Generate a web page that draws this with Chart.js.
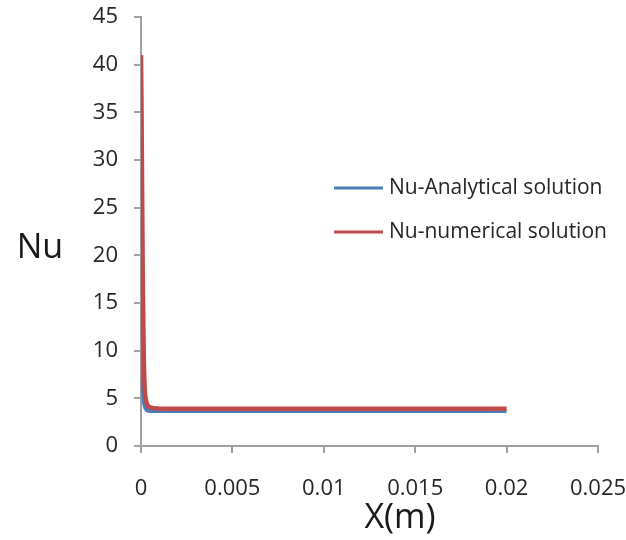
<!DOCTYPE html>
<html>
<head>
<meta charset="utf-8">
<script src="https://cdn.jsdelivr.net/npm/chart.js@4/dist/chart.umd.min.js"></script>
<style>
  html, body { margin: 0; padding: 0; background: #fff; }
  #wrap { width: 626px; height: 540px; }
</style>
</head>
<body>
<div id="wrap"><canvas id="myChart" width="626" height="540"></canvas></div>
<script>
// values
let xValues = [0, 0.00005, 0.0001, 0.00015, 0.0002, 0.0003, 0.0005, 0.001, 0.002, 0.005, 0.01, 0.015, 0.02];
let nuAnalytical = [40, 14, 6.5, 4.8, 4.2, 3.8, 3.68, 3.66, 3.66, 3.66, 3.66, 3.66, 3.66];
let nuNumerical = [41, 30, 17, 9.5, 6.2, 4.6, 4.05, 3.92, 3.9, 3.9, 3.9, 3.9, 3.9];
let seriesNames = ['Nu-Analytical solution', 'Nu-numerical solution'];
let lineColors = ['#4A7EBB', '#BE4B48'];
let xTicks = [0, 0.005, 0.01, 0.015, 0.02, 0.025];
let yTicks = [0, 5, 10, 15, 20, 25, 30, 35, 40, 45];

const toPoints = ys => xValues.map((x, i) => ({x: x, y: ys[i]}));
const FONT = '"Open Sans", "Liberation Sans", sans-serif';
const axisGray = '#a0a0a0';
const textColor = '#262626';

const labelsPlugin = {
    id: 'labels',
    afterDraw(chart) {
        let ctx = chart.ctx;
        ctx.save();
        ctx.fillStyle = '#1a1a1a';
        ctx.textBaseline = 'middle';
        // axis titles
        ctx.font = '34px ' + FONT;
        ctx.textAlign = 'center';
        ctx.fillText('Nu', 40, 248);
        ctx.fillText('X(m)', 400, 518);
        // legend
        ctx.font = '21px ' + FONT;
        ctx.textAlign = 'left';
        chart.data.datasets.forEach((ds, i) => {
            let y = 188 + i * 44;
            ctx.strokeStyle = ds.borderColor;
            ctx.lineWidth = 3;
            ctx.beginPath();
            ctx.moveTo(334, y);
            ctx.lineTo(383, y);
            ctx.stroke();
            ctx.fillStyle = textColor;
            ctx.fillText(ds.label, 389, y);
        });
        ctx.restore();
    }
};

new Chart('myChart', {
    type: 'line',
    data: {
        datasets: [
            {
                label: seriesNames[0],
                data: toPoints(nuAnalytical),
                borderColor: lineColors[0],
                borderWidth: 4,
                pointRadius: 0,
                cubicInterpolationMode: 'monotone',
                fill: false,
                order: 1
            },
            {
                label: seriesNames[1],
                data: toPoints(nuNumerical),
                borderColor: lineColors[1],
                borderWidth: 4.5,
                pointRadius: 0,
                cubicInterpolationMode: 'monotone',
                fill: false,
                order: 0
            }
        ]
    },
    options: {
        responsive: false,
        animation: false,
        layout: {padding: {left: 0, top: 17, right: 28, bottom: 0}},
        plugins: {legend: {display: false}, tooltip: {enabled: false}},
        scales: {
            x: {
                type: 'linear',
                min: 0,
                max: 0.025,
                afterBuildTicks: s => { s.ticks = xTicks.map(v => ({value: v})); },
                afterFit: s => {
                    s.height = 94;
                    s.paddingLeft = 0;
                    s.paddingRight = 0;
                },
                ticks: {
                    padding: 23,
                    color: textColor,
                    font: {family: FONT, size: 22},
                    callback: v => String(+v.toFixed(3))
                },
                grid: {drawOnChartArea: false, drawTicks: true, tickLength: 7, color: axisGray, lineWidth: 2},
                border: {color: axisGray, width: 2}
            },
            y: {
                min: 0,
                max: 45,
                afterBuildTicks: s => { s.ticks = yTicks.map(v => ({value: v})); },
                afterFit: s => {
                    s.width = 141;
                    s.paddingTop = 0;
                    s.paddingBottom = 0;
                },
                ticks: {
                    padding: 16,
                    color: textColor,
                    font: {family: FONT, size: 22}
                },
                grid: {drawOnChartArea: false, drawTicks: true, tickLength: 7, color: axisGray, lineWidth: 2},
                border: {color: axisGray, width: 2}
            }
        }
    },
    plugins: [labelsPlugin]
});
</script>
</body>
</html>
